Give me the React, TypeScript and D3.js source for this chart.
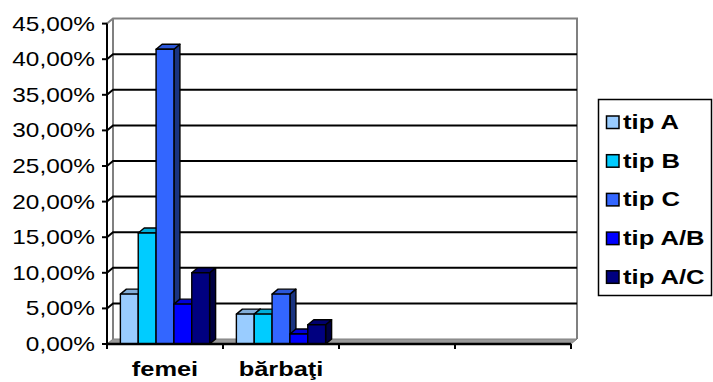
import React from "react";
import * as d3 from "d3";

const categories = ["femei", "bărbaţi", "", ""];
const seriesNames = ["tip A", "tip B", "tip C", "tip A/B", "tip A/C"];
const tipA = [0.07, 0.042];
const tipB = [0.156, 0.042];
const tipC = [0.414, 0.07];
const tipAB = [0.056, 0.014];
const tipAC = [0.1, 0.027];
const seriesValues = [tipA, tipB, tipC, tipAB, tipAC];
const seriesColors = ["#99CCFF", "#00CCFF", "#3366FF", "#0000FF", "#000080"];
const yTicks = [0, 0.05, 0.1, 0.15, 0.2, 0.25, 0.3, 0.35, 0.4, 0.45];

const W = 713;
const H = 382;
const FONT = "'Liberation Sans', Arial, sans-serif";
const SX = 1.22;

export default function App() {
  const x0 = 107;
  const x1 = 571;
  const yBottom = 344;
  const yTop = 23.6;
  const dx = 6;
  const dy = -5;

  const xCat = d3
    .scaleBand<string>()
    .domain(categories.map((_, i) => String(i)))
    .range([x0, x1])
    .paddingInner(0)
    .paddingOuter(0);
  const xSer = d3
    .scaleBand<string>()
    .domain(seriesNames)
    .range([0, xCat.bandwidth()])
    .paddingInner(0)
    .paddingOuter(0.75);
  const y = d3.scaleLinear().domain([0, 0.45]).range([yBottom, yTop]);
  const fmt = (v: number) => d3.format(".2f")(v * 100).replace(".", ",") + "%";

  const bars: JSX.Element[] = [];
  categories.forEach((cat, ci) => {
    seriesValues.forEach((vals, si) => {
      const v = vals[ci];
      if (v === undefined) return;
      const bx = (xCat(String(ci)) as number) + (xSer(seriesNames[si]) as number);
      const bw = xSer.bandwidth();
      const by = y(v);
      const col = seriesColors[si];
      const top = d3.color(col)!.darker(0.45).formatHex();
      const side = d3.color(col)!.darker(1.9).formatHex();
      bars.push(
        <g key={`${ci}-${si}`} stroke="#000" strokeWidth={1.4} strokeLinejoin="round">
          <polygon
            points={`${bx + bw},${by} ${bx + bw + dx},${by + dy} ${bx + bw + dx},${yBottom + dy} ${bx + bw},${yBottom}`}
            fill={side}
          />
          <polygon
            points={`${bx},${by} ${bx + dx},${by + dy} ${bx + bw + dx},${by + dy} ${bx + bw},${by}`}
            fill={top}
          />
          <rect x={bx} y={by} width={bw} height={yBottom - by} fill={col} />
        </g>
      );
    });
  });

  const legX = 598.5;
  const legY = 99.5;
  const legW = 113;
  const legH = 196;

  return (
    <div style={{ position: "fixed", left: 0, top: 0 }}>
      <svg width={W} height={H} style={{ display: "block", background: "#fff" }}>
        {/* walls */}
        <polyline
          points={`${x0},${yTop} ${x0 + dx},${yTop + dy} ${x1 + dx},${yTop + dy} ${x1 + dx},${yBottom + dy}`}
          fill="none"
          stroke="#808080"
          strokeWidth={2}
        />
        <line x1={x0 + dx} y1={yTop + dy} x2={x0 + dx} y2={yBottom + dy} stroke="#808080" strokeWidth={2} />
        {/* gridlines */}
        {yTicks
          .filter((t) => t > 0 && t < 0.45)
          .map((t) => (
            <polyline
              key={t}
              points={`${x0},${y(t)} ${x0 + dx},${y(t) + dy} ${x1 + dx},${y(t) + dy}`}
              fill="none"
              stroke="#000"
              strokeWidth={2}
            />
          ))}
        {/* floor */}
        <polygon
          points={`${x0},${yBottom} ${x1},${yBottom} ${x1 + dx},${yBottom + dy} ${x0 + dx},${yBottom + dy}`}
          fill="#999"
          stroke="#808080"
          strokeWidth={1}
        />
        {bars}
        {/* axes */}
        <line x1={x0} y1={yTop} x2={x0} y2={yBottom + 1} stroke="#000" strokeWidth={2} />
        <line x1={x0} y1={yBottom} x2={x1} y2={yBottom} stroke="#000" strokeWidth={2.5} />
        {yTicks.map((t) => (
          <g key={t}>
            <line x1={x0 - 5} y1={y(t)} x2={x0} y2={y(t)} stroke="#000" strokeWidth={2} />
            <text
              transform={`translate(95,${y(t) + 7}) scale(${SX},1)`}
              textAnchor="end"
              fontFamily={FONT}
              fontSize={20}
              fill="#000"
            >
              {fmt(t)}
            </text>
          </g>
        ))}
        {d3.range(categories.length + 1).map((i) => {
          const xx = i < categories.length ? (xCat(String(i)) as number) : x1;
          return <line key={i} x1={xx} y1={yBottom} x2={xx} y2={yBottom + 5} stroke="#000" strokeWidth={2} />;
        })}
        {categories.map((c, i) =>
          c ? (
            <text
              key={i}
              transform={`translate(${(xCat(String(i)) as number) + xCat.bandwidth() / 2},376) scale(1.27,1)`}
              textAnchor="middle"
              fontFamily={FONT}
              fontWeight="bold"
              fontSize={20}
              fill="#000"
            >
              {c}
            </text>
          ) : null
        )}
        {/* legend */}
        <rect x={legX} y={legY} width={legW} height={legH} fill="#fff" stroke="#000" strokeWidth={1.5} />
        {seriesNames.map((s, i) => {
          const base = 129 + i * 38.7;
          return (
            <g key={s}>
              <rect x={606.5} y={base - 13} width={12.5} height={12.5} fill={seriesColors[i]} stroke="#000" strokeWidth={1.5} />
              <text
                transform={`translate(623,${base}) scale(1.28,1)`}
                fontFamily={FONT}
                fontWeight="bold"
                fontSize={20}
                fill="#000"
              >
                {s}
              </text>
            </g>
          );
        })}
      </svg>
    </div>
  );
}
